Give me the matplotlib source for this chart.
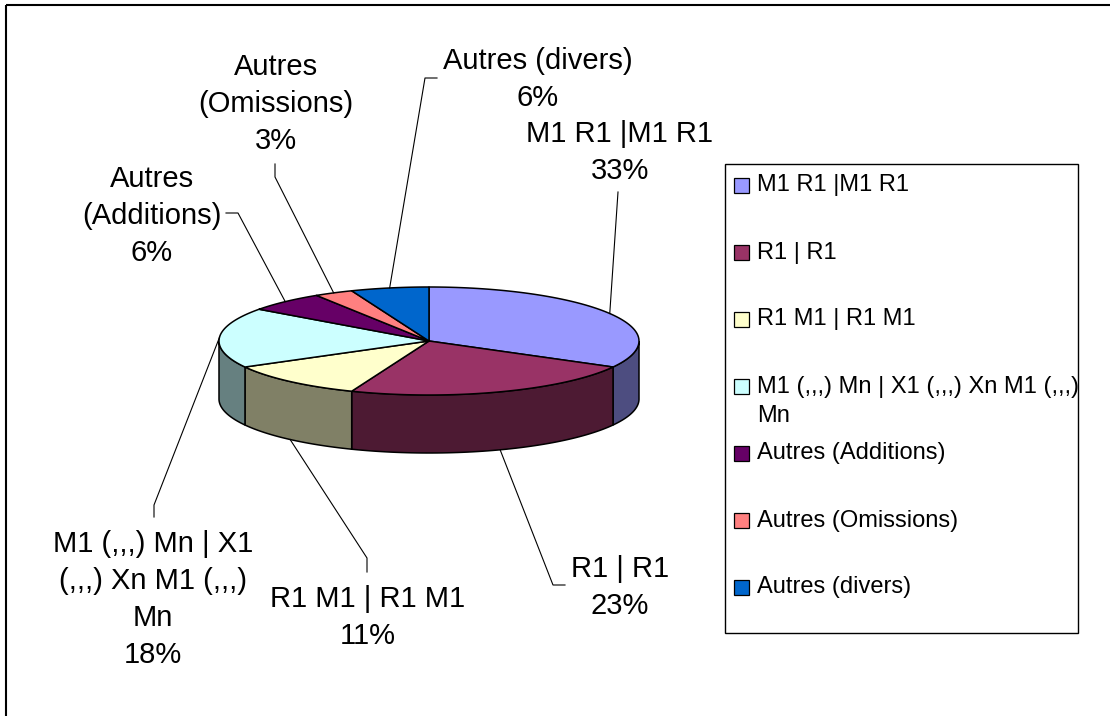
import numpy as np
import matplotlib
matplotlib.use('Agg')
import matplotlib.pyplot as plt
from matplotlib.patches import Polygon, Rectangle

plt.rcParams['font.family'] = ['Liberation Sans', 'DejaVu Sans']

# data
categories = ['M1 R1 |M1 R1', 'R1 | R1', 'R1 M1 | R1 M1',
              'M1 (,,,) Mn | X1 (,,,) Xn M1 (,,,) Mn',
              'Autres (Additions)', 'Autres (Omissions)', 'Autres (divers)']
values = [33, 23, 11, 18, 6, 3, 6]
colors = ['#9999FF', '#993366', '#FFFFCC', '#CCFFFF', '#660066', '#FF8080', '#0066CC']

# wrapped data labels (as drawn on the chart)
label_lines = [
    ['M1 R1 |M1 R1'],
    ['R1 | R1'],
    ['R1 M1 | R1 M1'],
    ['M1 (,,,) Mn | X1', '(,,,) Xn M1 (,,,)', 'Mn'],
    ['Autres', '(Additions)'],
    ['Autres', '(Omissions)'],
    ['Autres (divers)'],
]
legend_lines = [
    ['M1 R1 |M1 R1'],
    ['R1 | R1'],
    ['R1 M1 | R1 M1'],
    ['M1 (,,,) Mn | X1 (,,,) Xn M1 (,,,)', 'Mn'],
    ['Autres (Additions)'],
    ['Autres (Omissions)'],
    ['Autres (divers)'],
]

# layout (pixel space)
cx, cy, a, b, depth = 429, 341, 210, 54, 58
label_pos = [(620, 142), (620, 577), (368, 607), (153, 552), (152, 187), (276, 75), (538, 69)]
elbows = [
    [(618, 192)],
    [(553, 585), (565, 585)],
    [(367, 558), (367, 572)],
    [(154, 505), (154, 517)],
    [(238, 213), (226, 213)],
    [(275, 177), (275, 164)],
    [(425, 78), (437, 78)],
]
line_step = 37

fig = plt.figure(figsize=(11.1, 7.16), dpi=100)
ax = fig.add_axes([0, 0, 1, 1])
ax.set_xlim(0, 1110)
ax.set_ylim(716, 0)
ax.axis('off')

# outer frame
ax.add_patch(Rectangle((6, 5), 1200, 800, fill=False, edgecolor='black', lw=1.5))


def ell(t, dz=0.0):
    return cx + a * np.cos(t), cy - b * np.sin(t) + dz


def darker(c, f=0.5):
    r, g, bb = matplotlib.colors.to_rgb(c)
    return (r * f, g * f, bb * f)


total = sum(values)
bounds = [90.0]
for v in values:
    bounds.append(bounds[-1] - 360.0 * v / total)

# side walls (front half only)
for i, col in enumerate(colors):
    hi, lo = bounds[i], bounds[i + 1]
    lo2, hi2 = max(lo, -180.0), min(hi, 0.0)
    if hi2 <= lo2:
        continue
    t = np.radians(np.linspace(lo2, hi2, 60))
    xt, yt = ell(t)
    xb, yb = ell(t[::-1], depth)
    pts = np.column_stack([np.concatenate([xt, xb]), np.concatenate([yt, yb])])
    ax.add_patch(Polygon(pts, closed=True, facecolor=darker(col), edgecolor='black', lw=1.1))

# top face
for i, col in enumerate(colors):
    hi, lo = bounds[i], bounds[i + 1]
    t = np.radians(np.linspace(hi, lo, 80))
    xt, yt = ell(t)
    pts = np.column_stack([np.concatenate([[cx], xt]), np.concatenate([[cy], yt])])
    ax.add_patch(Polygon(pts, closed=True, facecolor=col, edgecolor='black', lw=1.1, joinstyle='round'))

# data labels and leader lines
for i, v in enumerate(values):
    mid = np.radians((bounds[i] + bounds[i + 1]) / 2)
    x0, y0 = ell(mid, depth if np.sin(mid) < 0 else 0)
    xs = [x0] + [p[0] for p in elbows[i]]
    ys = [y0] + [p[1] for p in elbows[i]]
    ax.plot(xs, ys, color='black', lw=0.8)
    lines = label_lines[i] + [f'{v}%']
    lx, ly = label_pos[i]
    for j, s in enumerate(lines):
        ax.text(lx, ly + j * line_step, s, ha='center', va='baseline', fontsize=21)

# legend
ax.add_patch(Rectangle((725, 164), 353, 469, fill=False, edgecolor='black', lw=1.0))
for i, col in enumerate(colors):
    yc = 185.5 + i * 67
    ax.add_patch(Rectangle((734, yc - 7.5), 15, 15, facecolor=col, edgecolor='black', lw=0.9))
    for j, s in enumerate(legend_lines[i]):
        ax.text(757, yc + j * 30, s, ha='left', va='center', fontsize=17)

fig.savefig('out.png', dpi=100)
